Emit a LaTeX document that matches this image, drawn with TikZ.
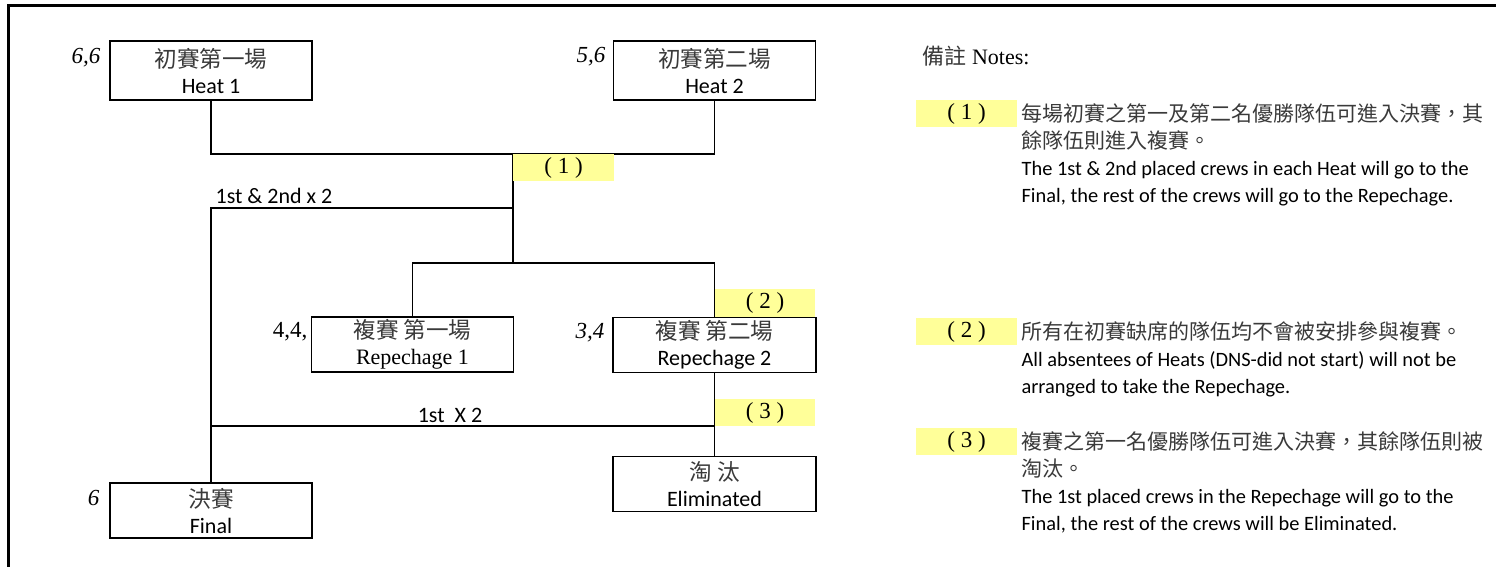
\documentclass[tikz,border=0pt]{standalone}
\usepackage{fontspec}
\setmainfont{Liberation Serif}
\newfontfamily\cjk{Noto Sans CJK TC}[Color=3A3A3A]
\newfontfamily\calibri{Carlito}
\usetikzlibrary{positioning}
\definecolor{tagyellow}{RGB}{255,255,153}
\tikzset{
  stage/.style={draw, line width=0.6pt, minimum width=101pt, minimum height=27.5pt,
    inner sep=0pt, align=center, font=\fontsize{11}{13}\selectfont},
  tag/.style={fill=tagyellow, minimum width=50.5pt, minimum height=13.5pt,
    inner sep=0pt, font=\fontsize{11.5}{13}\selectfont},
  seed/.style={anchor=east, inner sep=0pt, font=\fontsize{11.5}{13}\selectfont\itshape},
  lbl/.style={inner sep=0pt, font=\calibri\fontsize{11}{13}\selectfont},
  note/.style={anchor=west, align=left, inner sep=0pt, font=\fontsize{10.5}{13.5}\selectfont}
}

\begin{document}
\begin{tikzpicture}[x=0.5pt, y=-0.5pt, line width=0.6pt]
\useasboundingbox (0,0) rectangle (1496,567);

            % frame
            \draw[line width=1.5pt] (8,567)--(8,6)--(1496,6);

            % stages
            \node[stage, minimum height=29.5pt] (H1) at (211,70.5) {{\cjk\fontsize{11.3}{13}\selectfont 初賽第一場}\\{\calibri Heat 1}};
            \node[stage, minimum height=29.5pt] (H2) at (714.5,70.5) {{\cjk\fontsize{11.3}{13}\selectfont 初賽第二場}\\{\calibri Heat 2}};
            \node[stage] (R1) at (412.5,344.5) {{\cjk\fontsize{11.3}{13}\selectfont 複賽 第一場}\\Repechage 1};
            \node[stage, minimum width=101.5pt] (R2) at (714.5,345) {{\cjk\fontsize{11.3}{13}\selectfont 複賽 第二場}\\{\calibri Repechage 2}};
            \node[stage] (F) at (211,510.5) {{\cjk\fontsize{11.3}{13}\selectfont 決賽}\\{\calibri Final}};
            \node[stage, minimum width=101.5pt] (E) at (714.5,484) {{\cjk\fontsize{11.3}{13}\selectfont 淘 汰}\\{\calibri Eliminated}};

            % crews
            \node[seed] (S1) at (101,58) {6,6};
            \node[seed] (S2) at (606,57) {5,6};
            \node[seed, font=\fontsize{11.5}{13}\selectfont] (S3) at (308,332) {4,4,};
            \node[seed] (S4) at (605,333) {3,4};
            \node[seed] (S5) at (100,498) {6};

            % joints
            \coordinate (J1) at (513,154);
            \coordinate (J2) at (513,208);
            \coordinate (J3) at (513,263);
            \coordinate (J4) at (715,426);

            \draw (H1.south) |- (J1) -| (H2.south);
            \draw (J1)--(J3);
            \draw (R1.north) |- (J3) -| (R2.north);
            \draw (J2) -| (F.north);
            \draw (R2.south)--(E.north);
            \draw (J4) -| (F.north);

            \node[tag] (T1) at (563.5,167.5) {( 1 )};
            \node[tag, minimum width=50pt] (T2) at (765,303) {( 2 )};
            \node[tag, minimum width=50pt] (T3) at (765,412.5) {( 3 )};

            \node[lbl] (W1) at (274,196) {1st \& 2nd x 2};
            \node[lbl] (W2) at (450,415) {1st\ \ X 2};

            % notes
            \node[anchor=west, inner sep=0pt, font=\fontsize{11}{13}\selectfont] (N0) at (922,56) {{\cjk 備註} Notes:};
            \node[tag] (NT1) at (966.5,113.5) {( 1 )};
            \node[tag] (NT2) at (966.5,331.5) {( 2 )};
            \node[tag] (NT3) at (966.5,441.5) {( 3 )};

            \node[note] (N1) at (1021,154.5) {{\cjk 每場初賽之第一及第二名優勝隊伍可進入決賽，其}\\{\cjk 餘隊伍則進入複賽。}\\{\calibri\fontsize{10.2}{13.5}\selectfont The 1st \& 2nd placed crews in each Heat will go to the}\\{\calibri\fontsize{10.2}{13.5}\selectfont Final, the rest of the crews will go to the Repechage.}};
            \node[note] (N2) at (1021,359) {{\cjk 所有在初賽缺席的隊伍均不會被安排參與複賽。}\\{\calibri\fontsize{10.2}{13.5}\selectfont All absentees of Heats (DNS-did not start) will not be}\\{\calibri\fontsize{10.2}{13.5}\selectfont arranged to take the Repechage.}};
            \node[note] (N3) at (1021,482.5) {{\cjk 複賽之第一名優勝隊伍可進入決賽，其餘隊伍則被}\\{\cjk 淘汰。}\\{\calibri\fontsize{10.2}{13.5}\selectfont The 1st placed crews in the Repechage will go to the}\\{\calibri\fontsize{10.2}{13.5}\selectfont Final, the rest of the crews will be Eliminated.}};
\end{tikzpicture}
\end{document}
